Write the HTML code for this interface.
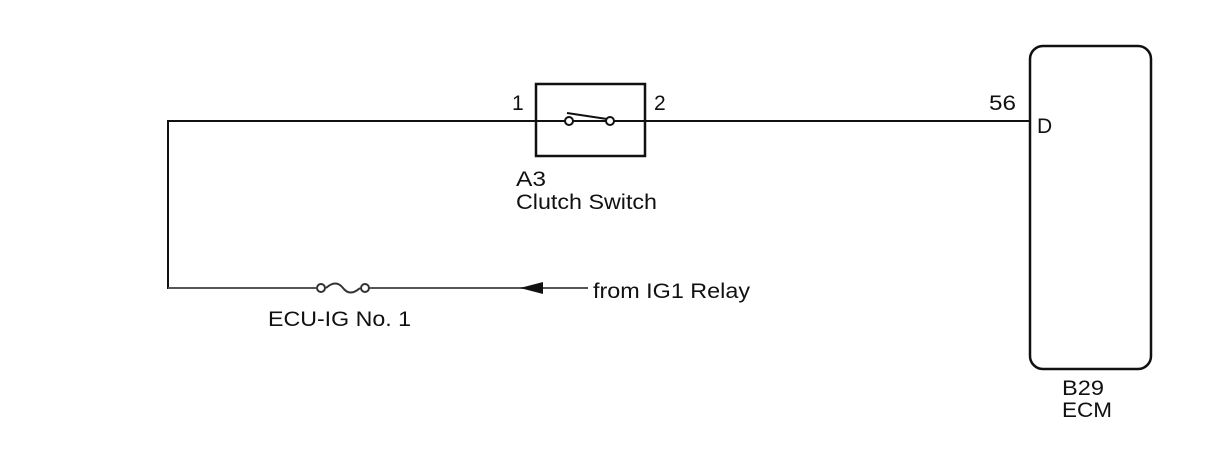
<!DOCTYPE html>
<html><head><style>body{margin:0;background:#fff}svg{display:block}</style></head><body>
<svg width="1210" height="474" xmlns="http://www.w3.org/2000/svg" font-family="Liberation Sans, sans-serif" font-size="21" fill="#111">
<g stroke="#111" stroke-width="2" fill="none">
<line x1="168" y1="121" x2="1030" y2="121"/>
<line x1="168" y1="120" x2="168" y2="289"/>
<line x1="168" y1="288" x2="316" y2="288" stroke="#555"/>
<line x1="370" y1="288" x2="588" y2="288" stroke="#555"/>
<rect x="536" y="84" width="109" height="72" fill="none" stroke-width="2.5"/>
<line x1="567" y1="113" x2="607" y2="119"/>
<rect x="1030" y="46" width="121" height="323" rx="13" stroke-width="2.5"/>
<path d="M326 288 q10 -9 17 0 t17 0" stroke="#333"/>
</g>
<circle cx="569" cy="121" r="4" fill="#fff" stroke="#111" stroke-width="2"/>
<circle cx="610" cy="121" r="4" fill="#fff" stroke="#111" stroke-width="2"/>
<circle cx="321" cy="288" r="4" fill="#fff" stroke="#333" stroke-width="2"/>
<circle cx="365" cy="288" r="4" fill="#fff" stroke="#333" stroke-width="2"/>
<polygon points="520,288 543,282 543,294" fill="#111"/>
<text x="512" y="110">1</text>
<text x="654" y="110">2</text>
<text x="989" y="110" textLength="27" lengthAdjust="spacingAndGlyphs">56</text>
<text x="1037" y="133">D</text>
<text x="516" y="186" textLength="30" lengthAdjust="spacingAndGlyphs">A3</text>
<text x="516" y="209" textLength="141" lengthAdjust="spacingAndGlyphs">Clutch Switch</text>
<text x="268" y="326" textLength="143" lengthAdjust="spacingAndGlyphs">ECU-IG No. 1</text>
<text x="593" y="298" textLength="157" lengthAdjust="spacingAndGlyphs">from IG1 Relay</text>
<text x="1062" y="395" textLength="42" lengthAdjust="spacingAndGlyphs">B29</text>
<text x="1062" y="417" textLength="50" lengthAdjust="spacingAndGlyphs">ECM</text>
</svg>
</body></html>
